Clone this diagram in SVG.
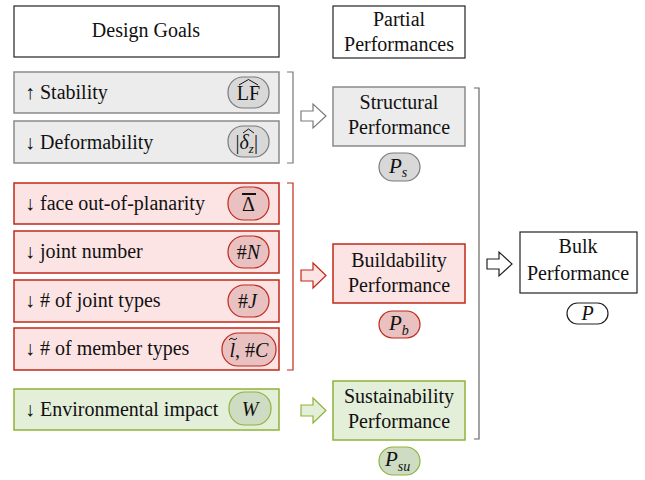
<svg xmlns="http://www.w3.org/2000/svg" width="645" height="480" viewBox="0 0 645 480">
<style>
text{font-family:"Liberation Serif","Times New Roman",serif;font-size:20px;fill:#111}
.c{text-anchor:middle}
.m{text-anchor:middle;font-size:20px}
.i{font-style:italic}
.hdr{fill:#fff;stroke:#222;stroke-width:1.2}
.gb{fill:#ececec;stroke:#8a8a8a;stroke-width:1.5}
.gp{fill:#d8d8d8;stroke:#7a7a7a;stroke-width:1.2}
.rb{fill:#fde4e4;stroke:#c0281a;stroke-width:1.5}
.rp{fill:#e9c1c1;stroke:#c0281a;stroke-width:1.2}
.vb{fill:#e3efd9;stroke:#8fb33a;stroke-width:1.5}
.vp{fill:#cfdcc4;stroke:#8fb33a;stroke-width:1.2}
.wp{fill:#fff;stroke:#222;stroke-width:1.2}
.brk{fill:none;stroke-width:1.2}
.acc{fill:none;stroke:#111;stroke-width:1}
</style>
<g id="design-goals"><rect class="hdr" x="14" y="6" width="265" height="51"/><text class="c" x="146" y="37">Design Goals</text></g>
<g id="partial-performances"><rect class="hdr" x="333" y="6" width="132" height="52"/><text class="c" x="399" y="26">Partial</text><text class="c" x="399" y="51">Performances</text></g>

<g id="stability"><rect class="gb" x="14" y="72" width="265" height="41"/><text x="25" y="99">↑ Stability</text>
<rect class="gp" x="228" y="77" width="41" height="31" rx="15"/><text class="m" x="248.5" y="100">LF</text><path class="acc" d="M239,85 L248.5,79.5 L258,85"/></g>
<g id="deformability"><rect class="gb" x="14" y="121" width="265" height="42"/><text x="25" y="149">↓ Deformability</text>
<rect class="gp" x="228" y="126" width="41" height="31" rx="15"/><text x="235.5" y="149" style="font-size:20px">|<tspan class="i">δ</tspan><tspan class="i" style="font-size:13px" dy="4">z</tspan><tspan dy="-4">|</tspan></text><path class="acc" d="M243,133 L248.5,129 L254,133"/></g>

<g id="face"><rect class="rb" x="14" y="183" width="265" height="41"/><text x="25" y="210">↓ face out-of-planarity</text>
<rect class="rp" x="228" y="187" width="41" height="33" rx="16"/><text class="m" x="248.5" y="211">Δ</text><line x1="242" y1="194" x2="256" y2="194" stroke="#111" stroke-width="2"/></g>
<g id="joint-number"><rect class="rb" x="14" y="231" width="265" height="42"/><text x="25" y="258">↓ joint number</text>
<rect class="rp" x="228" y="236" width="41" height="32" rx="16"/><text class="m" x="248.5" y="259">#<tspan class="i">N</tspan></text></g>
<g id="joint-types"><rect class="rb" x="14" y="280" width="265" height="42"/><text x="25" y="307">↓ # of joint types</text>
<rect class="rp" x="228" y="285" width="41" height="32" rx="16"/><text class="m" x="247.5" y="308">#<tspan class="i">J</tspan></text></g>
<g id="member-types"><rect class="rb" x="14" y="328" width="265" height="42"/><text x="25" y="355">↓ # of member types</text>
<rect class="rp" x="222" y="333" width="54" height="33" rx="16"/><text class="m" x="249" y="357"><tspan class="i">l</tspan>, #<tspan class="i">C</tspan></text><path class="acc" d="M229,340 q2,-3 4,-1 t4,-1"/></g>

<g id="environmental"><rect class="vb" x="14" y="389" width="265" height="41"/><text x="25" y="416">↓ Environmental impact</text>
<rect class="vp" x="229" y="392" width="42" height="33" rx="16"/><text class="m i" x="250" y="416">W</text></g>

<g id="structural"><rect class="gb" x="333" y="87" width="132" height="59"/><text class="c" x="399" y="109">Structural</text><text class="c" x="399" y="134">Performance</text>
<rect class="gp" x="379" y="153" width="41" height="28" rx="14"/><text class="i" x="389" y="173" style="font-size:21px">P<tspan style="font-size:14px" dy="4">s</tspan></text></g>
<g id="buildability"><rect class="rb" x="333" y="244" width="132" height="59"/><text class="c" x="399" y="267">Buildability</text><text class="c" x="399" y="292">Performance</text>
<rect class="rp" x="379" y="311" width="41" height="27" rx="13.5"/><text class="i" x="389" y="330" style="font-size:21px">P<tspan style="font-size:14px" dy="5">b</tspan></text></g>
<g id="sustainability"><rect class="vb" x="333" y="381" width="132" height="59"/><text class="c" x="399" y="403">Sustainability</text><text class="c" x="399" y="428">Performance</text>
<rect class="vp" x="379" y="447" width="41" height="28" rx="14"/><text class="i" x="385" y="466" style="font-size:21px">P<tspan style="font-size:14px" dy="5">su</tspan></text></g>

<g id="bulk"><rect class="hdr" x="520" y="232" width="117" height="61"/><text class="c" x="578" y="253">Bulk</text><text class="c" x="578" y="280">Performance</text>
<rect class="wp" x="567" y="303" width="41" height="21" rx="10.5"/><text class="m i" x="587.5" y="320">P</text></g>

<g id="connectors">
<path class="brk" stroke="#777" d="M287,72 H293 V163 H287"/>
<path class="brk" stroke="#c0281a" d="M287,183 H293 V370 H287"/>
<path class="brk" stroke="#666" stroke-width="1.5" d="M474,88 H479 V439 H474"/>
<path fill="#fff" stroke="#7a7a7a" stroke-width="1.2" d="M301,111 H313 V104 L326,116 L313,128 V121 H301 Z"/>
<path fill="#fde4e4" stroke="#c0281a" stroke-width="1.2" d="M301,270 H313 V263 L326,275.5 L313,288 V281 H301 Z"/>
<path fill="#e3efd9" stroke="#8fb33a" stroke-width="1.2" d="M301,405 H313 V398 L326,410.5 L313,423 V416 H301 Z"/>
<path fill="#fff" stroke="#222" stroke-width="1.2" d="M487,259 H499 V252 L512,264 L499,276 V269 H487 Z"/>
</g>
</svg>
